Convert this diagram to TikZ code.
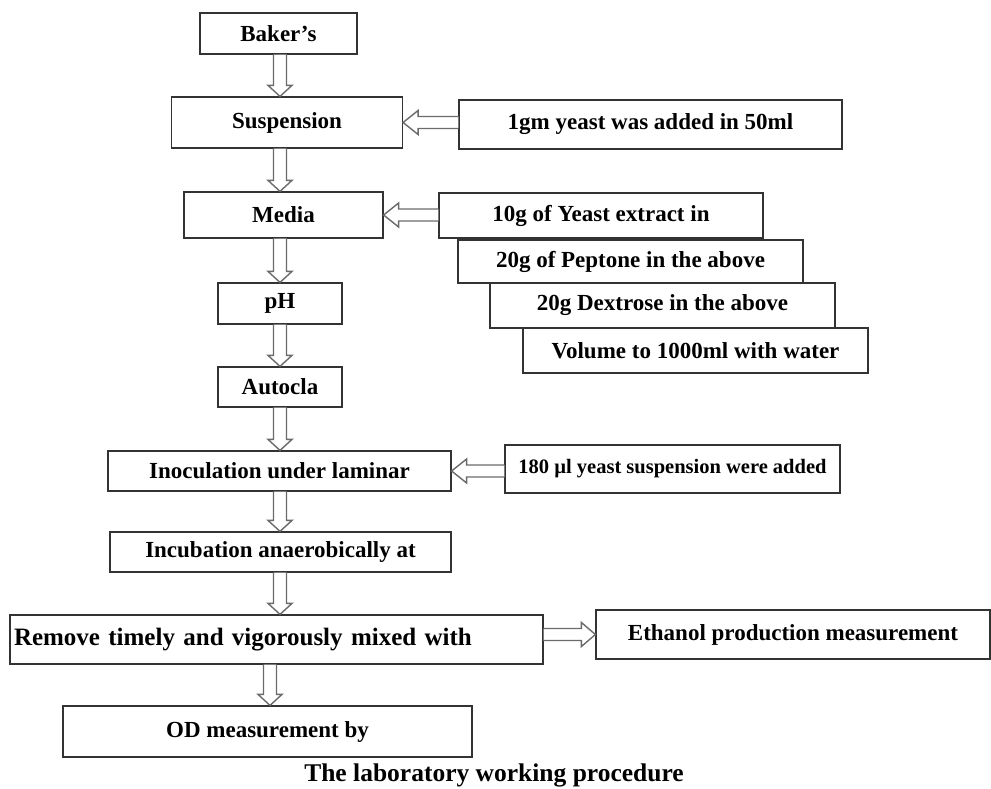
\documentclass[tikz,border=0pt]{standalone}
\usepackage{fontspec}
\setmainfont{Liberation Serif}
\usetikzlibrary{calc}

\tikzset{
  box/.style={draw=black!80, line width=1.2pt, fill=white, inner xsep=4pt,
    font=\bfseries\fontsize{23}{26}\selectfont},
  flow/.style={draw=black!58, line width=1.4pt, fill=white, line join=miter}
}

% hollow block arrows, drawn from node to node
\newcommand\flowdown[3][spine]{%
  \draw[flow] let \p1=(#2.south), \p2=(#3.north), \p3=(#1) in
    (\x3-6.5pt,\y1) -- (\x3-6.5pt,\y2+11pt) -- (\x3-12pt,\y2+11pt) -- (\x3,\y2)
    -- (\x3+12pt,\y2+11pt) -- (\x3+6.5pt,\y2+11pt) -- (\x3+6.5pt,\y1);}
\newcommand\flowleft[2]{%
  \draw[flow] let \p1=(#1.west), \p2=(#2.east) in
    (\x1,\y2+6pt) -- (\x2+15pt,\y2+6pt) -- (\x2+15pt,\y2+12pt) -- (\x2,\y2)
    -- (\x2+15pt,\y2-12pt) -- (\x2+15pt,\y2-6pt) -- (\x1,\y2-6pt);}
\newcommand\flowright[2]{%
  \draw[flow] let \p1=(#1.east), \p2=(#2.west) in
    (\x1,\y2+6pt) -- (\x2-14pt,\y2+6pt) -- (\x2-14pt,\y2+12pt) -- (\x2,\y2)
    -- (\x2-14pt,\y2-12pt) -- (\x2-14pt,\y2-6pt) -- (\x1,\y2-6pt);}

\begin{document}
\begin{tikzpicture}[x=1pt,y=-1pt]
 \useasboundingbox (0,0) rectangle (991,789);
 \coordinate (spine) at (280,0);
 \coordinate (odspine) at (270,0);

 % main column
 \node[box, minimum width=157pt, minimum height=41pt] (bakers) at (278.5,33.5) {Baker’s};
 \node[box, minimum width=231pt, minimum height=51pt] (susp) at (287,122.5) {Suspension};
 \node[box, minimum width=199pt, minimum height=46pt] (media) at (283.5,215) {Media};
 \node[box, minimum width=124pt, minimum height=41pt] (ph) at (280,303.5) {pH};
 \node[box, minimum width=124pt, minimum height=40pt] (autocla) at (280,387) {Autocla};
 \node[box, minimum width=343pt, minimum height=40pt] (inoc) at (279.5,471) {Inoculation under laminar};
 \node[box, minimum width=341pt, minimum height=40pt] (incub) at (280.5,552) {Incubation anaerobically at};
 \node[box, minimum width=533pt, minimum height=49pt, text width=525pt, align=left,
   font=\bfseries\fontsize{25}{28}\selectfont] (remove) at (276.5,639.5) {Remove timely and vigorously mixed with};
 \node[box, minimum width=409pt, minimum height=51pt] (od) at (267.5,731.5) {OD measurement by};

 % side boxes
 \node[box, minimum width=383pt, minimum height=49pt] (yeast) at (650.5,124.5) {1gm yeast was added in 50ml};
 \node[box, minimum width=324pt, minimum height=45pt] (extract) at (601,215.5) {10g of Yeast extract in};
 \node[box, minimum width=345pt, minimum height=43pt] (peptone) at (630.5,261.5) {20g of Peptone in the above};
 \node[box, minimum width=345pt, minimum height=45pt] (dextrose) at (662.5,305.5) {20g Dextrose in the above};
 \node[box, minimum width=345pt, minimum height=45pt] (volume) at (695.5,350.5) {Volume to 1000ml with water};
 \node[box, minimum width=335pt, minimum height=48pt,
   font=\bfseries\fontsize{20.5}{24}\selectfont] (inocul) at (672.5,469) {180 µl yeast suspension were added};
 \node[box, minimum width=394pt, minimum height=49pt] (ethanol) at (793,634.5) {Ethanol production measurement};

 \node[font=\bfseries\fontsize{25.5}{28}\selectfont] (caption) at (494,775) {The laboratory working procedure};

 \flowdown{bakers}{susp}
 \flowdown{susp}{media}
 \flowdown{media}{ph}
 \flowdown{ph}{autocla}
 \flowdown{autocla}{inoc}
 \flowdown{inoc}{incub}
 \flowdown{incub}{remove}
 \flowdown[odspine]{remove}{od}
 \flowleft{yeast}{susp}
 \flowleft{extract}{media}
 \flowleft{inocul}{inoc}
 \flowright{remove}{ethanol}
\end{tikzpicture}
\end{document}
